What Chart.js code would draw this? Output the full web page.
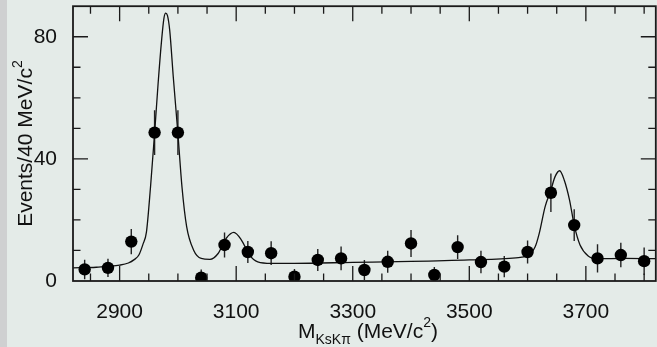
<!DOCTYPE html>
<html>
<head>
<meta charset="utf-8">
<script src="https://cdn.jsdelivr.net/npm/chart.js@4.4.1/dist/chart.umd.min.js"></script>
<style>
html, body { margin: 0; padding: 0; width: 657px; height: 347px; overflow: hidden; background: #e4ebe8; }
#strip { position: absolute; left: 0; top: 0; width: 7px; height: 347px; background: #cfd0d1; }
canvas { position: absolute; left: 0; top: 0; }
</style>
</head>
<body>
<div id="strip"></div>
<canvas id="myChart" width="662" height="347"></canvas>
<script>
// measured points (40 MeV bins)
const massBins = [2840, 2880, 2920, 2960, 3000, 3040, 3080, 3120, 3160, 3200, 3240, 3280, 3320,
                  3360, 3400, 3440, 3480, 3520, 3560, 3600, 3640, 3680, 3720, 3760, 3800];
const eventCounts = [3.8, 4.3, 12.9, 48.6, 48.6, 1.1, 11.8, 9.5, 9.1, 1.4, 6.9, 7.4, 3.6,
                     6.3, 12.3, 2.0, 11.1, 6.2, 4.7, 9.5, 28.9, 18.3, 7.4, 8.5, 6.5];
const eventErrors = [3.2, 3.0, 4.1, 7.3, 7.3, 2.7, 4.1, 3.6, 3.9, 2.5, 3.6, 3.9, 3.3,
                     3.6, 4.4, 2.6, 3.9, 3.7, 3.5, 3.8, 6.3, 5.2, 4.6, 4.0, 4.5];

// fit curve
const fitMass = [2820, 2860, 2880, 2900, 2915, 2925, 2933, 2940, 2946, 2953, 2960, 2966, 2972,
                 2976, 2979, 2982, 2986, 2992, 3000, 3007, 3015, 3027, 3040, 3055, 3069, 3083,
                 3096, 3109, 3123, 3137, 3160, 3200, 3300, 3400, 3500, 3580, 3600, 3613, 3620,
                 3630, 3640, 3647, 3655, 3663, 3672, 3680, 3690, 3704, 3720, 3766, 3820];
const fitEvents = [4.3, 4.5, 4.8, 5.2, 5.9, 7.0, 8.5, 12, 16, 30.8, 48.3, 64.6, 78.8,
                   86, 87.7, 87, 82, 67, 48.3, 30.8, 17.8, 10.1, 7.4, 7.1, 9.0, 14.0,
                   15.9, 13.4, 8.5, 6.3, 5.8, 5.8, 6.1, 6.4, 6.9, 7.6, 8.3, 11.2, 15.6,
                   24.3, 29.8, 34.1, 36.1, 33, 26.5, 18.3, 11.8, 8.2, 7.3, 7.4, 7.3];

const xTickLabels = [2900, 3100, 3300, 3500, 3700];
const yTickLabels = [0, 40, 80];

const FONT = "'Liberation Sans', Arial, Helvetica, sans-serif";
const INK = '#111';

// error bars under the markers
const errorBars = {
    id: 'errorBars',
    beforeDatasetsDraw(chart) {
        const { ctx, chartArea: a, scales: { x, y } } = chart;
        ctx.save();
        ctx.beginPath();
        ctx.rect(a.left, a.top, a.right - a.left, a.bottom - a.top);
        ctx.clip();
        ctx.strokeStyle = '#222';
        ctx.lineWidth = 1.4;
        for (let i = 0; i < massBins.length; i++) {
            const px = x.getPixelForValue(massBins[i]);
            ctx.beginPath();
            ctx.moveTo(px, y.getPixelForValue(eventCounts[i] - eventErrors[i]));
            ctx.lineTo(px, y.getPixelForValue(eventCounts[i] + eventErrors[i]));
            ctx.stroke();
        }
        ctx.restore();
    }
};

// frame with inward ticks on all four sides
const frameTicks = {
    id: 'frameTicks',
    afterDatasetsDraw(chart) {
        const { ctx, chartArea: a, scales: { x, y } } = chart;
        ctx.save();
        ctx.strokeStyle = '#1a1a1a';
        ctx.lineWidth = 1.3;
        ctx.beginPath();
        for (let v = 2850; v <= 3800; v += 50) {
            const px = x.getPixelForValue(v);
            const len = xTickLabels.includes(v) ? 15 : 7.5;
            ctx.moveTo(px, a.bottom); ctx.lineTo(px, a.bottom - len);
            ctx.moveTo(px, a.top); ctx.lineTo(px, a.top + len);
        }
        for (let v = 10; v <= 80; v += 10) {
            const py = y.getPixelForValue(v);
            const len = yTickLabels.includes(v) ? 15 : 7.5;
            ctx.moveTo(a.left, py); ctx.lineTo(a.left + len, py);
            ctx.moveTo(a.right, py); ctx.lineTo(a.right - len, py);
        }
        ctx.stroke();
        ctx.lineWidth = 1.8;
        ctx.strokeRect(a.left, a.top, a.right - a.left, a.bottom - a.top);
        ctx.restore();
    }
};

// axis titles with sub/superscripts
const axisTitles = {
    id: 'axisTitles',
    afterDraw(chart) {
        const { ctx, chartArea: a } = chart;
        ctx.save();
        ctx.fillStyle = INK;
        ctx.textBaseline = 'alphabetic';
        ctx.textAlign = 'left';

        // x title: M_KsKπ (MeV/c²)
        const big = '21px ' + FONT, small = '14px ' + FONT;
        ctx.font = big;
        const wM = ctx.measureText('M').width;
        const wMid = ctx.measureText(' (MeV/c').width;
        const wClose = ctx.measureText(')').width;
        ctx.font = small;
        const wSub = ctx.measureText('KsK\u03c0').width;
        const wSup = ctx.measureText('2').width;
        const total = wM + wSub + wMid + wSup + wClose;
        let cx = (a.left + 657) / 2 - total / 2 + 3;
        const base = 338;
        ctx.font = big; ctx.fillText('M', cx, base); cx += wM;
        ctx.font = small; ctx.fillText('KsK\u03c0', cx, base + 6); cx += wSub;
        ctx.font = big; ctx.fillText(' (MeV/c', cx, base); cx += wMid;
        ctx.font = small; ctx.fillText('2', cx, base - 11); cx += wSup;
        ctx.font = big; ctx.fillText(')', cx, base);

        // y title: Events/40 MeV/c²
        ctx.font = big;
        const wY = ctx.measureText('Events/40 MeV/c').width;
        ctx.font = small;
        const wY2 = ctx.measureText('2').width;
        const totY = wY + wY2;
        ctx.translate(31.5, (a.top + a.bottom) / 2);
        ctx.rotate(-Math.PI / 2);
        ctx.font = big; ctx.fillText('Events/40 MeV/c', -totY / 2, 0);
        ctx.font = small; ctx.fillText('2', -totY / 2 + wY, -10);
        ctx.restore();
    }
};

function makeChart() {
    const ctx = document.getElementById('myChart');
    new Chart(ctx, {
        data: {
            datasets: [{
                type: 'scatter',
                label: 'data',
                data: massBins.map((m, i) => ({ x: m, y: eventCounts[i] })),
                backgroundColor: '#000',
                borderWidth: 0,
                pointRadius: 6.2,
                order: 0
            }, {
                type: 'line',
                label: 'fit',
                data: fitMass.map((m, i) => ({ x: m, y: fitEvents[i] })),
                borderColor: '#111',
                borderWidth: 1.3,
                pointRadius: 0,
                fill: false,
                cubicInterpolationMode: 'monotone',
                order: 1
            }]
        },
        options: {
            responsive: false,
            animation: false,
            events: [],
            layout: { padding: { top: 5, left: 0, right: 0, bottom: 0 } },
            plugins: { legend: { display: false }, tooltip: { enabled: false } },
            scales: {
                x: {
                    type: 'linear',
                    min: 2820,
                    max: 3820,
                    grid: { display: false },
                    border: { display: false },
                    afterBuildTicks(s) { s.ticks = xTickLabels.map(v => ({ value: v })); },
                    afterFit(s) { s.height = 66; s.paddingLeft = 0; s.paddingRight = 0; },
                    ticks: {
                        padding: 11,
                        maxRotation: 0,
                        autoSkip: false,
                        color: INK,
                        font: { family: FONT, size: 21 },
                        callback: v => String(v)
                    }
                },
                y: {
                    type: 'linear',
                    min: 0,
                    max: 90,
                    grid: { display: false },
                    border: { display: false },
                    afterBuildTicks(s) { s.ticks = yTickLabels.map(v => ({ value: v })); },
                    afterFit(s) { s.width = 73; s.paddingTop = 0; s.paddingBottom = 0; },
                    ticks: {
                        padding: 8,
                        color: INK,
                        font: { family: FONT, size: 21 },
                        callback: v => String(v)
                    }
                }
            }
        },
        plugins: [errorBars, frameTicks, axisTitles]
    });
}

makeChart();
</script>
</body>
</html>
